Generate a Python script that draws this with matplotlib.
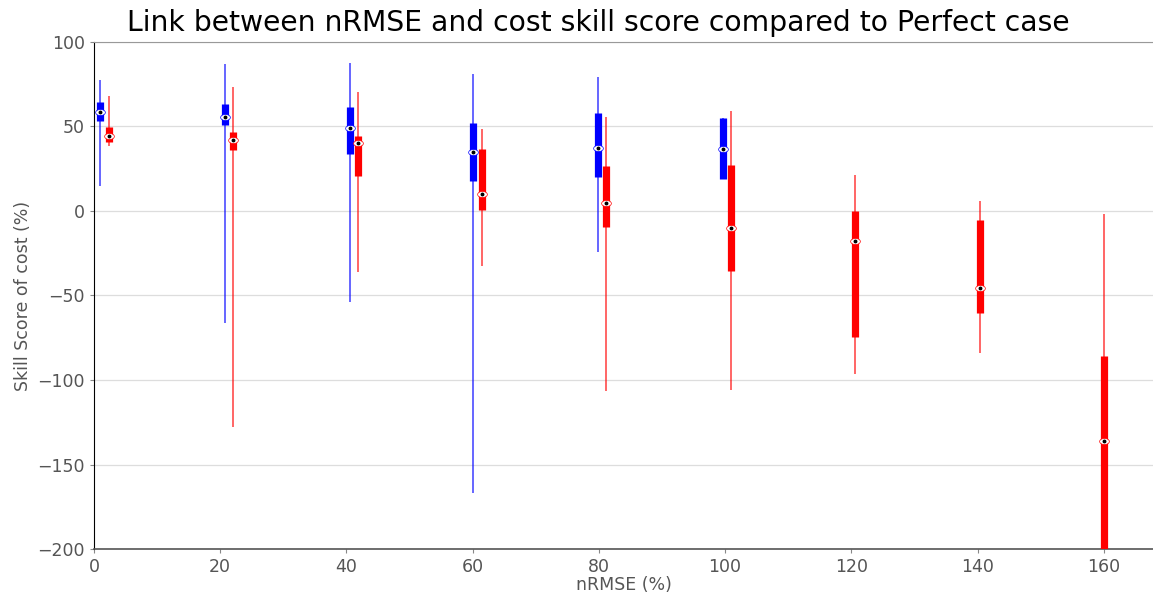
import matplotlib
matplotlib.use("Agg")
import matplotlib.pyplot as plt
import numpy as np
from matplotlib.path import Path

# Data
blue_x = [0.95, 20.8, 40.6, 60.1, 79.9, 99.6]
blue_wlo = [15, -66, -54, -167, -24, 19]
blue_q1 = [53, 51, 34, 17.5, 20, 19]
blue_med = [58.5, 55.5, 49.3, 35, 37.5, 36.7]
blue_q3 = [64.7, 63.5, 61.3, 52.3, 57.8, 54.8]
blue_whi = [77.5, 87, 87.4, 81, 79.5, 54.8]

red_x = [2.4, 22.1, 41.9, 61.4, 81.2, 100.9, 120.6, 140.4, 160.0]
red_wlo = [38.5, -128, -36, -32.5, -106.5, -106, -96.4, -84, -210]
red_q1 = [41, 36, 20.7, 0.6, -9.5, -35.5, -74.6, -60.4, -210]
red_med = [44.4, 42, 40.4, 9.9, 4.9, -9.9, -17.8, -45.6, -135.9]
red_q3 = [49.9, 46.9, 44.4, 36.5, 26.6, 27.2, 0, -5.3, -85.8]
red_whi = [68, 73.6, 70.6, 48.3, 55.4, 59.4, 21.3, 5.9, -1.8]

xticks = [0, 20, 40, 60, 80, 100, 120, 140, 160]
yticks = [-200, -150, -100, -50, 0, 50, 100]

fig = plt.figure(figsize=(11.53, 6.05), dpi=100)
ax = fig.add_axes([94/1153, 1-549/605, 1-94/1153, (549-42)/605])

t = np.linspace(0, 2*np.pi, 40)
ell = Path(np.column_stack([1.6*np.cos(t), np.sin(t)]))

def draw(xs, wlo, q1, med, q3, whi, color):
    ax.vlines(xs, wlo, whi, color=color, lw=1.2, alpha=0.7, zorder=3)
    ax.vlines(xs, q1, q3, color=color, lw=5.2, zorder=4)
    ax.plot(xs, med, ls='none', marker=ell, ms=7, mfc='white',
            mec=color, mew=0.5, zorder=5)
    ax.plot(xs, med, ls='none', marker='o', ms=1.8, color='black', zorder=6)

draw(blue_x, blue_wlo, blue_q1, blue_med, blue_q3, blue_whi, '#0000ff')
draw(red_x, red_wlo, red_q1, red_med, red_q3, red_whi, '#ff0000')

ax.set_xlim(0, 167.8)
ax.set_ylim(-200, 100)
ax.set_xticks(xticks)
ax.set_yticks(yticks)
ax.yaxis.grid(True, color='#dddddd', lw=0.9, zorder=0)
ax.set_axisbelow(True)
ax.tick_params(labelsize=12.5, labelcolor='#555555', color='#888888', length=3)
ax.spines['right'].set_visible(False)
ax.spines['top'].set_color('#999999')
ax.spines['bottom'].set_color('#555555')
ax.spines['bottom'].set_linewidth(1.2)
ax.spines['left'].set_color('black')
ax.set_xlabel('nRMSE (%)', fontsize=12.5, color='#555555', labelpad=0)
ax.set_ylabel('Skill Score of cost (%)', fontsize=12.5, color='#555555')

fig.text(598/1153, 1-23/605, 'Link between nRMSE and cost skill score compared to Perfect case',
         ha='center', va='center', fontsize=20.3, color='black')

fig.savefig('out.png', dpi=100)
